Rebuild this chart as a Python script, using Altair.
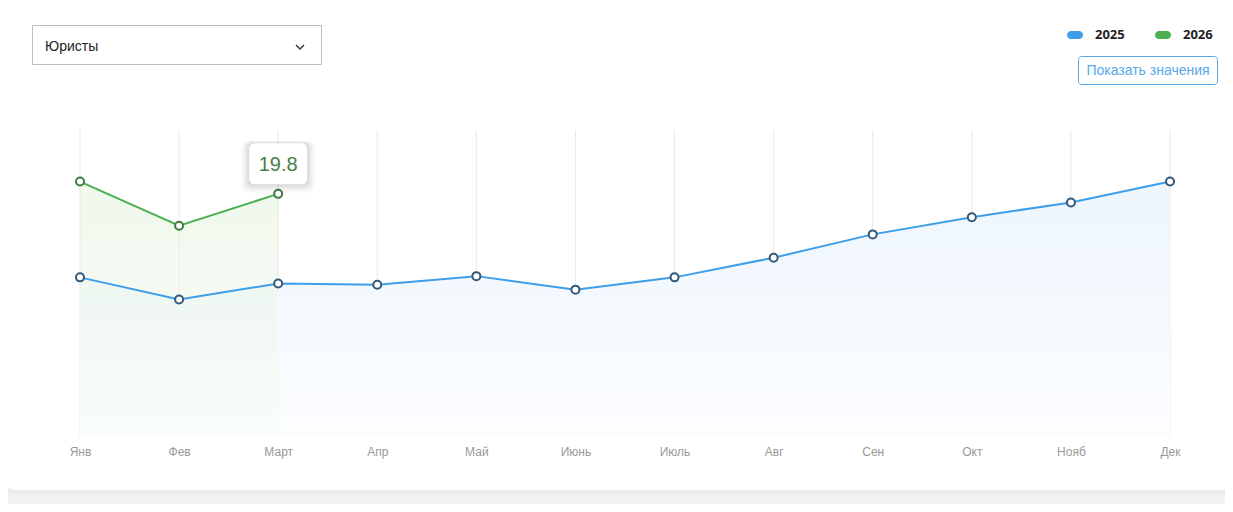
import altair as alt
import pandas as pd

# ---- data ----
months = ["Янв", "Фев", "Март", "Апр", "Май", "Июнь", "Июль", "Авг", "Сен", "Окт", "Нояб", "Дек"]
series_names = ["2025", "2026"]
values_2025 = [13.0, 11.2, 12.5, 12.4, 13.1, 12.0, 13.0, 14.6, 16.5, 17.9, 19.1, 20.8]
values_2026 = [20.8, 17.2, 19.8]
selected_label = "Юристы"
button_label = "Показать значения"
highlight_month = "Март"

# ---- styles ----
W, H = 1217, 496
BLUE = "#3d9ee9"
GREEN = "#4caf50"
BLUE_PT = "#33587b"
GREEN_PT = "#3f7c40"
FONT = "Liberation Sans"
series_colors = [BLUE, GREEN]

df25 = pd.DataFrame({"month": months, "value": values_2025, "series": series_names[0]})
df26 = pd.DataFrame({"month": months[:len(values_2026)], "value": values_2026, "series": series_names[1]})
dfall = pd.concat([df25, df26], ignore_index=True)
dfm = pd.DataFrame({"month": months})
dft = df26[df26["month"] == highlight_month].reset_index(drop=True)
one = pd.DataFrame({"k": [0]})

x_scale = alt.Scale(type="point", domain=months, range=[72, 1162], padding=0)
y_scale = alt.Scale(domain=[0, 25], range=[429, 122], nice=False, zero=False)

x_axis = alt.Axis(orient="bottom", offset=-67, domain=False, ticks=False, grid=False,
                  labelPadding=9, labelFontSize=12, labelColor="#999999", labelFont=FONT,
                  labelAngle=0, title=None, zindex=2)
x_enc = alt.X("month:N", scale=x_scale, sort=months, axis=x_axis)
y_enc = alt.Y("value:Q", scale=y_scale, axis=None)

# ---- card / page chrome ----
page_bg = alt.Chart(one).mark_rect(fill="#f3f3f3").encode(
    x=alt.value(-20), x2=alt.value(W + 20), y=alt.value(440), y2=alt.value(H + 10))
shadow1 = alt.Chart(one).mark_rect(fill="#e4e4e4", cornerRadius=20, opacity=0.35).encode(
    x=alt.value(-10), x2=alt.value(W + 40), y=alt.value(-40), y2=alt.value(489))
shadow2 = alt.Chart(one).mark_rect(fill="#e4e4e4", cornerRadius=18, opacity=0.45).encode(
    x=alt.value(-9), x2=alt.value(W + 40), y=alt.value(-40), y2=alt.value(485))
card = alt.Chart(one).mark_rect(fill="white", cornerRadius=16).encode(
    x=alt.value(-8), x2=alt.value(W + 40), y=alt.value(-40), y2=alt.value(482))

dropdown_box = alt.Chart(one).mark_rect(fill="white", stroke="#bdbdbd", strokeWidth=1).encode(
    x=alt.value(24.5), x2=alt.value(313.5), y=alt.value(17.5), y2=alt.value(56.5))
dropdown_text = alt.Chart(one).mark_text(
    text=selected_label, align="left", baseline="middle", fontSize=14, font=FONT, color="#222222"
).encode(x=alt.value(37), y=alt.value(38.5))
chevron = alt.Chart(one).mark_point(
    shape="M-0.8,-0.4L0,0.4L0.8,-0.4", size=100, filled=False, stroke="#333333", strokeWidth=1.4, opacity=1
).encode(x=alt.value(292), y=alt.value(39))

button_box = alt.Chart(one).mark_rect(fill="white", stroke="#5aa7e8", strokeWidth=1, cornerRadius=3).encode(
    x=alt.value(1070.5), x2=alt.value(1209.5), y=alt.value(48.5), y2=alt.value(76.5))
button_text = alt.Chart(one).mark_text(
    text=button_label, align="center", baseline="middle", fontSize=14, font=FONT, color="#5aa9ea"
).encode(x=alt.value(1140), y=alt.value(63))

# ---- legend (pill + bold label per series) ----
pill = "M-0.5,-0.5L0.5,-0.5A0.5,0.5 0 0 1 0.5,0.5L-0.5,0.5A0.5,0.5 0 0 1 -0.5,-0.5Z"
legend_layers = []
for i, name in enumerate(series_names):
    dfl = pd.DataFrame({"series": [name]})
    legend_layers.append(alt.Chart(dfl).mark_point(
        shape=pill, size=256, filled=True, fill=series_colors[i], opacity=1, strokeWidth=0
    ).encode(x=alt.value(1067 + 88 * i), y=alt.value(27)))
    legend_layers.append(alt.Chart(dfl).mark_text(
        align="left", baseline="middle", fontSize=13, fontWeight="bold", font="Open Sans", color="#222222"
    ).encode(x=alt.value(1087 + 88 * i), y=alt.value(27), text="series:N"))

# ---- grid ----
grid = alt.Chart(dfm).transform_calculate(lo="0", hi="25").mark_rule(
    color="#e9e9e9", strokeWidth=1).encode(x=x_enc, y=alt.Y("lo:Q", scale=y_scale, axis=None), y2="hi:Q")

# ---- areas ----
area25 = alt.Chart(df25).transform_calculate(base="0").mark_area(
    color=alt.Gradient(gradient="linear", x1=0, x2=0, y1=0, y2=1,
                       stops=[alt.GradientStop(offset=0, color="#edf5fd"),
                              alt.GradientStop(offset=1, color="#fcfdff")])
).encode(x=x_enc, y=y_enc, y2="base:Q")

area26 = alt.Chart(df26).transform_calculate(base="0").mark_area(
    opacity=0.55,
    color=alt.Gradient(gradient="linear", x1=0, x2=0, y1=0, y2=1,
                       stops=[alt.GradientStop(offset=0, color="#e3f3de"),
                              alt.GradientStop(offset=1, color="#f7fcf6")])
).encode(x=x_enc, y=y_enc, y2="base:Q")

# ---- lines ----
lines = alt.Chart(dfall).mark_line(strokeWidth=2).encode(
    x=x_enc, y=y_enc,
    color=alt.Color("series:N", scale=alt.Scale(domain=series_names, range=series_colors), legend=None))

points = alt.Chart(dfall).mark_point(shape="circle", filled=True, fill="white", size=64,
                                     strokeWidth=2, opacity=1).encode(
    x=x_enc, y=y_enc,
    stroke=alt.Stroke("series:N", scale=alt.Scale(domain=series_names, range=[BLUE_PT, GREEN_PT]),
                      legend=None))

# ---- tooltip box ----
box = "M-0.793,-0.707L0.793,-0.707Q1,-0.707 1,-0.5L1,0.5Q1,0.707 0.793,0.707L-0.793,0.707Q-1,0.707 -1,0.5L-1,-0.5Q-1,-0.707 -0.793,-0.707Z"
tip_layers = []
for sz, op, dy in [(74, 0.02, -27), (70, 0.03, -28), (66, 0.04, -28.5), (62, 0.05, -29.5)]:
    tip_layers.append(alt.Chart(dft).mark_point(shape=box, size=sz * sz, filled=True, fill="black",
                                                opacity=op, strokeWidth=0, yOffset=dy).encode(x=x_enc, y=y_enc))
tip_layers.append(alt.Chart(dft).mark_point(shape=box, size=58 * 58, filled=True, fill="white",
                                            opacity=1, strokeWidth=0, yOffset=-30).encode(x=x_enc, y=y_enc))
tip_text = alt.Chart(dft).mark_text(fontSize=20, font=FONT, color="#4a7d4a", baseline="middle",
                                    yOffset=-29).encode(x=x_enc, y=y_enc, text=alt.Text("value:Q", format=".1f"))

chart = alt.layer(
    page_bg, shadow1, shadow2, card, dropdown_box, dropdown_text, chevron, button_box, button_text,
    *legend_layers, grid, area25, area26, lines, points, *tip_layers, tip_text
).properties(
    width=W, height=H, autosize="none", padding=0, background="white"
).configure_view(stroke=None)

chart.save("out.html", embed_options={"renderer": "svg", "actions": False})
